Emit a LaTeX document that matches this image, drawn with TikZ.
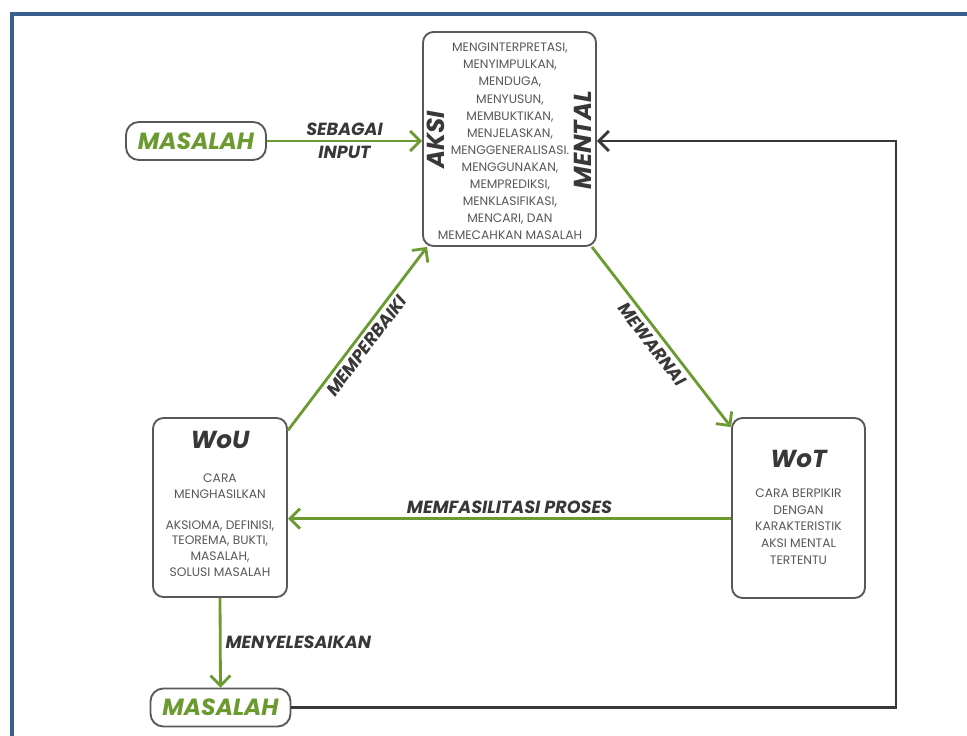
\documentclass[tikz,border=0pt]{standalone}
\usepackage{fontspec}
\setmainfont{Poppins}
\usepackage{tikz}
\usetikzlibrary{arrows.meta, positioning, calc}
\definecolor{hijau}{RGB}{106,154,48}
\definecolor{abu}{RGB}{88,88,88}
\definecolor{gelap}{RGB}{58,55,56}
\definecolor{bingkai}{RGB}{60,94,140}

\begin{document}
\begin{tikzpicture}[x=0.03cm, y=-0.03cm,
    kotak/.style={draw=abu, line width=1.6pt, rounded corners=9pt, fill=white},
    pil/.style={kotak, rounded corners=11pt, minimum width=4.2cm, minimum height=1.14cm,
        font=\fontsize{20}{20}\selectfont\bfseries\itshape, text=hijau},
    isi/.style={font=\fontsize{10.5}{14.6}\selectfont, text=abu, align=center},
    judul/.style={font=\fontsize{21}{21}\selectfont\bfseries\itshape, text=gelap},
    ket/.style={font=\fontsize{15}{17}\selectfont\bfseries\itshape, text=gelap},
    panah/.style={draw=hijau, line width=2.4pt, -{Straight Barb[length=3mm, width=6mm]}},
    balik/.style={draw=gelap, line width=2.4pt, -{Straight Barb[length=3mm, width=6mm]}}
]
\useasboundingbox (0,0) rectangle (967,736);

% Frame
\draw[bingkai, line width=3.4pt] (967,14) -- (12,14) -- (12,736);

% Aksi mental
\node[kotak, minimum width=5.19cm, minimum height=6.42cm] (aksi) at (509.5,139) {};
\node[isi] (aksiisi) at (510,141.5) {MENGINTERPRETASI,\\MENYIMPULKAN,\\MENDUGA,\\MENYUSUN,\\
    MEMBUKTIKAN,\\MENJELASKAN,\\MENGGENERALISASI.\\MENGGUNAKAN,\\MEMPREDIKSI,\\
    MENKLASIFIKASI,\\MENCARI, DAN\\MEMECAHKAN MASALAH};
\node[judul, rotate=90] (aksikiri) at (436,140) {AKSI};
\node[judul, rotate=90] (aksikanan) at (583,140) {MENTAL};

% WoU and WoT
\node[kotak, minimum width=4.02cm, minimum height=5.37cm] (wou) at (220,507.5) {};
\node[judul] (woujudul) at (220,440) {WoU};
\node[isi, font=\fontsize{10.5}{13.3}\selectfont] (wouisi) at (220,525) {CARA\\MENGHASILKAN\\[13.3pt]
    AKSIOMA, DEFINISI,\\TEOREMA, BUKTI,\\MASALAH,\\SOLUSI MASALAH};

\node[kotak, minimum width=3.99cm, minimum height=5.4cm] (wot) at (798.5,508) {};
\node[judul] (wotjudul) at (798.5,459) {WoT};
\node[isi, font=\fontsize{10.5}{14.2}\selectfont] (wotisi) at (798.5,526.5) {CARA BERPIKIR\\DENGAN\\
    KARAKTERISTIK\\AKSI MENTAL\\TERTENTU};

% Masalah
\node[pil] (masalahatas) at (196,141) {MASALAH};
\node[pil] (masalahbawah) at (220.5,707.5) {MASALAH};
\coordinate (pojok) at (896,141);

% Arrows
\draw[panah] (masalahatas.east) -- (masalahatas.east -| aksi.west)
    node[midway, above, ket] {SEBAGAI} node[midway, below, ket] {INPUT};
\draw[panah] ([xshift=-0.15cm]aksi.south east) -- ([yshift=-0.3cm]wot.north west)
    node[midway, below, sloped, ket] {MEWARNAI};
\draw[panah] ([yshift=-0.32cm]wot.west) -- ([yshift=-0.32cm]wot.west -| wou.east)
    node[midway, above, ket] {MEMFASILITASI PROSES};
\draw[panah] ([yshift=-0.4cm]wou.north east) -- ([xshift=0.15cm]aksi.south west)
    node[midway, below, sloped, ket] {MEMPERBAIKI};
\draw[panah] (wou.south) -- (masalahbawah.north)
    node[midway, right, ket] {MENYELESAIKAN};
\draw[balik] (masalahbawah.east) -| (pojok) -- (pojok -| aksi.east);
\end{tikzpicture}
\end{document}
